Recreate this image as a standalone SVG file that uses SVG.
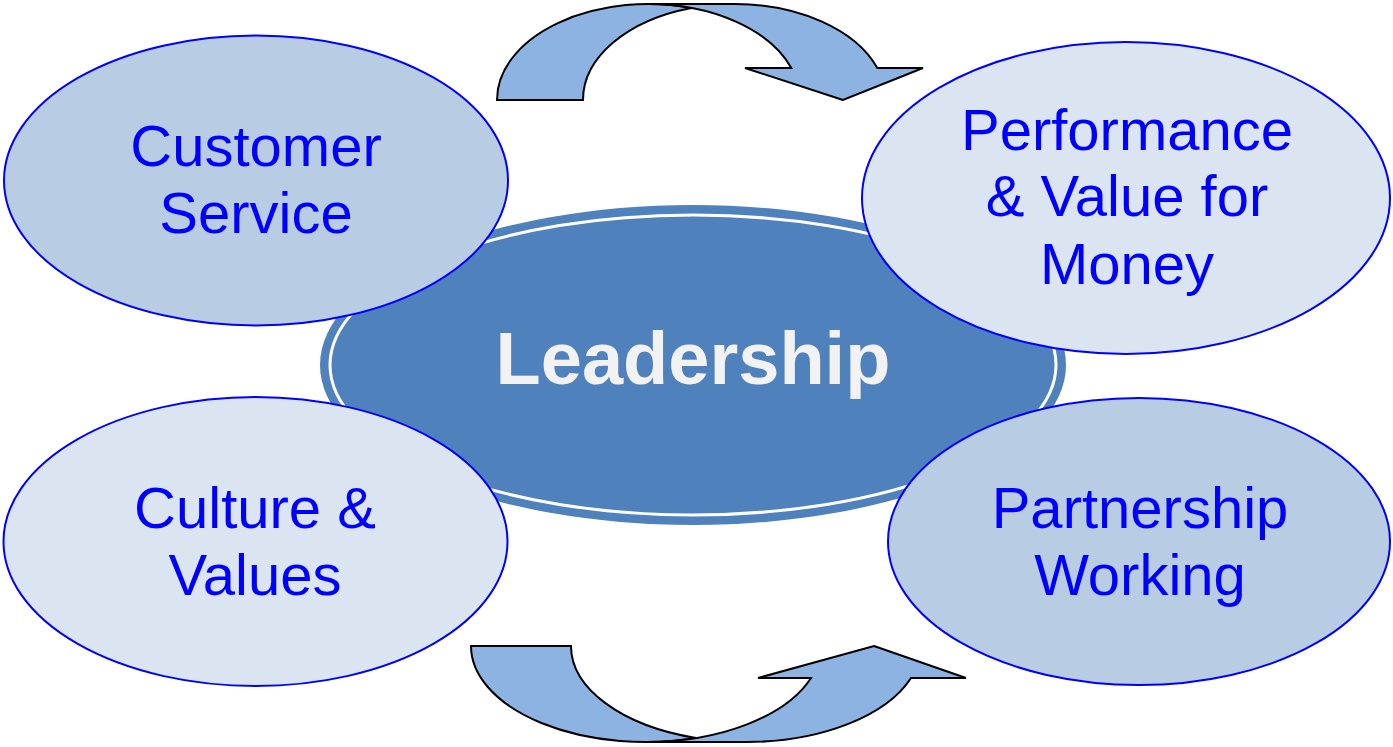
<svg xmlns="http://www.w3.org/2000/svg" width="1393" height="747" viewBox="0 0 1393 747">
<style>
.node{stroke:#0000ff;stroke-width:2}
.dark{fill:#b8cce4}
.light{fill:#dbe5f1}
.lbl{font-family:"Liberation Sans",Arial,sans-serif;font-size:58px;fill:#0000ff;text-anchor:middle}
.arrow{fill:#8db3e2;stroke:#000;stroke-width:2;stroke-linejoin:miter}
</style>
<rect width="1393" height="747" fill="#ffffff"/>
<g id="connectors">
<path class="arrow" d="M497,100 A151.5 96 0 0 1 691.5,7.95 A151.5 96 0 0 0 583,100 Z"/>
<path class="arrow" d="M843,100 L745,68 L791.3,68 A151.5 96 0 0 0 648.5,4 L734.5,4 A151.5 96 0 0 1 877.3,68 L923,68 Z"/>
<path class="arrow" d="M471,646 A175 96 0 0 0 696,738 A175 96 0 0 1 571,646 Z"/>
<path class="arrow" d="M874,646 L966,678 L911,678 A175 96 0 0 1 746,742 L646,742 A175 96 0 0 0 811,678 L758,678 Z"/>
</g>
<g id="leadership">
<ellipse cx="693" cy="365" rx="373" ry="160" fill="#4f81bd"/>
<ellipse cx="693" cy="365" rx="363" ry="150" fill="none" stroke="#ffffff" stroke-width="3"/>
<text x="693" y="384" font-family="'Liberation Sans',Arial,sans-serif" font-size="74" font-weight="bold" fill="#f2f2f2" text-anchor="middle">Leadership</text>
</g>
<g id="customer-service">
<ellipse class="node dark" cx="256" cy="180.5" rx="252" ry="145"/>
<text class="lbl" x="256" y="166">Customer</text>
<text class="lbl" x="256" y="233">Service</text>
</g>
<g id="performance">
<ellipse class="node light" cx="1126" cy="198" rx="264" ry="156"/>
<text class="lbl" x="1127" y="150">Performance</text>
<text class="lbl" x="1127" y="216">&amp; Value for</text>
<text class="lbl" x="1127" y="284">Money</text>
</g>
<g id="culture-values">
<ellipse class="node light" cx="255.5" cy="541.5" rx="252" ry="144.5"/>
<text class="lbl" x="255" y="528">Culture &amp;</text>
<text class="lbl" x="255" y="595">Values</text>
</g>
<g id="partnership-working">
<ellipse class="node dark" cx="1139" cy="541.5" rx="251" ry="143.5"/>
<text class="lbl" x="1140" y="528">Partnership</text>
<text class="lbl" x="1140" y="595">Working</text>
</g>
</svg>
